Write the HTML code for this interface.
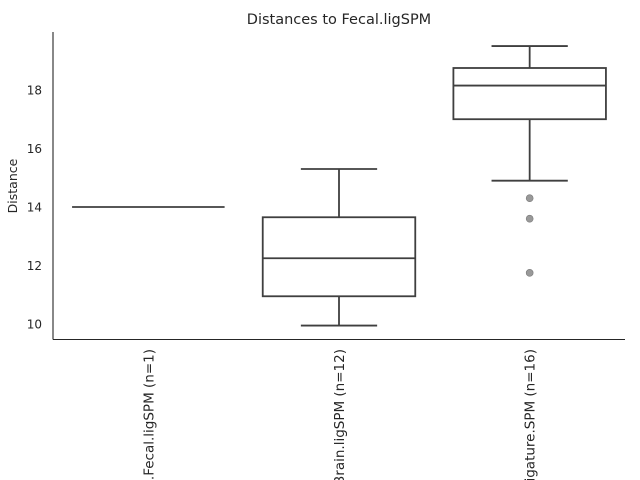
<!DOCTYPE html>
<html><head><meta charset="utf-8"><style>
html,body{margin:0;padding:0;background:#fff;overflow:hidden;}
svg{display:block;font-family:"DejaVu Sans","Liberation Sans",sans-serif;}
</style></head><body>
<svg id="chart" width="640" height="480">
<text x="339" y="24" text-anchor="middle" font-size="14.5" fill="#262626">Distances to Fecal.ligSPM</text>
<text transform="translate(17,186) rotate(-90)" text-anchor="middle" font-size="12.5" fill="#262626">Distance</text>
<g id="yticks"></g>
<g id="boxes"></g>
<g id="xlabels"></g>
<line x1="53" y1="32" x2="53" y2="339.5" stroke="#262626" stroke-width="1.1"/>
<line x1="53" y1="339.5" x2="625" y2="339.5" stroke="#262626" stroke-width="1.1"/>
</svg>
<script>
const categories = ["Human.Fecal.ligSPM (n=1)", "Brain.ligSPM (n=12)", "Ligature.SPM (n=16)"];
const whiskerLow = [14, 9.95, 14.9];
const q1Values = [14, 10.95, 17.0];
const medianValues = [14, 12.25, 18.15];
const q3Values = [14, 13.65, 18.75];
const whiskerHigh = [14, 15.3, 19.5];
const outliers = [[], [], [14.3, 13.6, 11.75]];
const yTicks = [10, 12, 14, 16, 18];

const NS = "http://www.w3.org/2000/svg";
const yMin = 9.49, yMax = 19.98, pTop = 32, pBot = 339;
const xL = 53, xR = 625;
function y(v){ return pBot - (v - yMin) / (yMax - yMin) * (pBot - pTop); }
function xc(i){ const bw = (xR - xL) / categories.length; return xL + bw * (i + 0.5); }
const bandW = (xR - xL) / categories.length;
const boxW = bandW * 0.8;
function mk(tag, attrs, parent){ const e = document.createElementNS(NS, tag); for (const k in attrs) e.setAttribute(k, attrs[k]); parent.appendChild(e); return e; }
const col = "#3f3f3f";
const yt = document.getElementById("yticks");
yTicks.forEach(t => {
  const e = mk("text", {x: 42, y: y(t) + 4.5, "text-anchor": "end", "font-size": "12", fill: "#262626"}, yt);
  e.textContent = t;
  
  
});
const bx = document.getElementById("boxes");
categories.forEach((c, i) => {
  const cx = xc(i);
  const g = mk("g", {}, bx);
  
  
  const sw = 1.8;
  if (q3Values[i] > q1Values[i]) {
    mk("rect", {x: cx - boxW / 2, y: y(q3Values[i]), width: boxW, height: y(q1Values[i]) - y(q3Values[i]), fill: "#fff", stroke: col, "stroke-width": sw}, g);
  }
  mk("line", {x1: cx - boxW / 2, x2: cx + boxW / 2, y1: y(medianValues[i]), y2: y(medianValues[i]), stroke: col, "stroke-width": sw}, g);
  if (whiskerHigh[i] > q3Values[i]) {
    mk("line", {x1: cx, x2: cx, y1: y(q3Values[i]), y2: y(whiskerHigh[i]), stroke: col, "stroke-width": sw}, g);
    mk("line", {x1: cx - boxW / 4, x2: cx + boxW / 4, y1: y(whiskerHigh[i]), y2: y(whiskerHigh[i]), stroke: col, "stroke-width": sw}, g);
  }
  if (whiskerLow[i] < q1Values[i]) {
    mk("line", {x1: cx, x2: cx, y1: y(q1Values[i]), y2: y(whiskerLow[i]), stroke: col, "stroke-width": sw}, g);
    mk("line", {x1: cx - boxW / 4, x2: cx + boxW / 4, y1: y(whiskerLow[i]), y2: y(whiskerLow[i]), stroke: col, "stroke-width": sw}, g);
  }
  outliers[i].forEach(v => {
    const o = mk("circle", {cx: cx, cy: y(v), r: 3.5, fill: "#999999", stroke: "#7a7a7a", "stroke-width": 0.6}, g);
    
    
  });
});
const xl = document.getElementById("xlabels");
categories.forEach((c, i) => {
  const e = mk("text", {transform: "translate(" + (xc(i) + 5) + ",349) rotate(-90)", "text-anchor": "end", "font-size": "13.5", fill: "#262626"}, xl);
  e.textContent = c;
  
  
});
</script>
</body></html>
